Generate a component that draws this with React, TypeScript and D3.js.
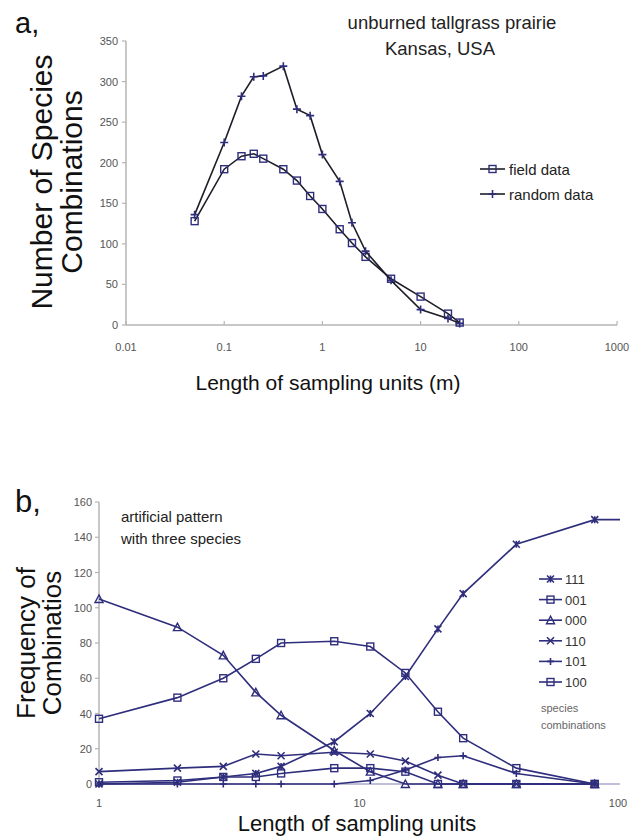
import * as d3 from "d3";

// ---- panel a: unburned tallgrass prairie ----
const lengthA = [0.05, 0.1, 0.15, 0.2, 0.25, 0.4, 0.55, 0.75, 1, 1.5, 2, 2.75, 5, 10, 19, 25];
const fieldData = [128, 192, 208, 211, 205, 192, 178, 159, 143, 118, 101, 84, 57, 35, 14, 3];
const randomData = [136, 225, 282, 306, 307, 319, 266, 258, 210, 177, 126, 91, 55, 19, 8, 2];
const xTicksA = [0.01, 0.1, 1, 10, 100, 1000];
const yTicksA = [0, 50, 100, 150, 200, 250, 300, 350];

// ---- panel b: artificial pattern ----
const lengthB = [1, 2, 3, 4, 5, 8, 11, 15, 20, 25, 40, 80, 100];
const comb111 = [0, 1, 4, 6, 10, 24, 40, 61, 88, 108, 136, 150, 150];
const comb001 = [37, 49, 60, 71, 80, 81, 78, 63, 41, 26, 9, 0];
const comb000 = [105, 89, 73, 52, 39, 19, 7, 0, 0, 0, 0, 0];
const comb110 = [7, 9, 10, 17, 16, 18, 17, 13, 5, 0, 0, 0];
const comb101 = [0, 0, 0, 0, 0, 0, 2, 8, 15, 16, 6, 0];
const comb100 = [1, 2, 4, 4, 6, 9, 9, 7, 0, 0, 0, 0];
const xTicksB = [1, 10, 100];
const yTicksB = [0, 20, 40, 60, 80, 100, 120, 140, 160];

const NAVY = "#2f2e7c";
const DARK = "#1e1e28";
const AXIS = "#b4b4b4";
const TICK_TXT = "#555";
const FONT = "'Liberation Sans', Arial, Helvetica, sans-serif";

type MarkerType = "square" | "triangle" | "plus" | "cross" | "star";

function Marker({ type, x, y, color, size = 7 }: { type: MarkerType; x: number; y: number; color: string; size?: number }) {
  const h = size / 2;
  if (type === "square")
    return <rect x={x - h} y={y - h} width={size} height={size} fill="none" stroke={color} strokeWidth={1.4} />;
  if (type === "triangle")
    return <path d={`M${x},${y - h - 0.5}L${x + h + 0.5},${y + h}L${x - h - 0.5},${y + h}Z`} fill="none" stroke={color} strokeWidth={1.4} />;
  if (type === "plus")
    return <path d={`M${x - h},${y}H${x + h}M${x},${y - h}V${y + h}`} stroke={color} strokeWidth={1.6} />;
  if (type === "cross")
    return <path d={`M${x - h},${y - h}L${x + h},${y + h}M${x + h},${y - h}L${x - h},${y + h}`} stroke={color} strokeWidth={1.6} />;
  return (
    <path
      d={`M${x - h},${y - h}L${x + h},${y + h}M${x + h},${y - h}L${x - h},${y + h}M${x},${y - h}V${y + h}`}
      stroke={color}
      strokeWidth={1.6}
    />
  );
}

function PanelA() {
  const x = d3.scaleLog().domain([0.01, 1000]).range([126, 617]);
  const y = d3.scaleLinear().domain([0, 350]).range([325, 41]);
  const line = d3
    .line<number>()
    .x((_, i) => x(lengthA[i]))
    .y((d) => y(d));
  const series = [
    { name: "field data", values: fieldData, marker: "square" as MarkerType },
    { name: "random data", values: randomData, marker: "plus" as MarkerType },
  ];
  return (
    <g>
      <text x={15} y={33} fontSize={29} fontFamily={FONT} fill="#111">a,</text>
      <text x={452} y={29} fontSize={18.5} textAnchor="middle" fontFamily={FONT} fill="#222">unburned tallgrass prairie</text>
      <text x={440} y={55} fontSize={18.5} textAnchor="middle" fontFamily={FONT} fill="#222">Kansas, USA</text>

      {/* axes */}
      <line x1={x(0.01)} x2={x(0.01)} y1={y(350)} y2={y(0)} stroke={AXIS} strokeWidth={1.5} />
      <line x1={x(0.01)} x2={x(1000)} y1={y(0)} y2={y(0)} stroke={AXIS} strokeWidth={1.5} />
      {yTicksA.map((t) => (
        <g key={t}>
          <line x1={x(0.01) - 4} x2={x(0.01)} y1={y(t)} y2={y(t)} stroke={AXIS} strokeWidth={1.2} />
          <text x={118} y={y(t) + 4} fontSize={11} textAnchor="end" fontFamily={FONT} fill={TICK_TXT}>{t}</text>
        </g>
      ))}
      {xTicksA.map((t) => (
        <g key={t}>
          <line x1={x(t)} x2={x(t)} y1={y(0) - 4} y2={y(0)} stroke={AXIS} strokeWidth={1.2} />
          <text x={x(t)} y={351} fontSize={11} textAnchor="middle" fontFamily={FONT} fill={TICK_TXT}>{t}</text>
        </g>
      ))}

      {/* axis titles */}
      <text transform="translate(52,182) rotate(-90)" fontSize={30} textAnchor="middle" fontFamily={FONT} fill="#111">Number of Species</text>
      <text transform="translate(82,182) rotate(-90)" fontSize={30} textAnchor="middle" fontFamily={FONT} fill="#111">Combinations</text>
      <text x={328} y={390} fontSize={21} textAnchor="middle" fontFamily={FONT} fill="#111">Length of sampling units (m)</text>

      {series.map((s) => (
        <g key={s.name}>
          <path d={line(s.values) || ""} fill="none" stroke={DARK} strokeWidth={1.6} />
          {s.values.map((v, i) => (
            <Marker key={i} type={s.marker} x={x(lengthA[i])} y={y(v)} color={NAVY} size={s.marker === "plus" ? 8 : 7} />
          ))}
        </g>
      ))}

      {/* legend */}
      {series.map((s, i) => (
        <g key={s.name} transform={`translate(0,${169 + i * 25})`}>
          <line x1={480} x2={505} y1={0} y2={0} stroke={DARK} strokeWidth={1.6} />
          <Marker type={s.marker} x={492.5} y={0} color={NAVY} size={s.marker === "plus" ? 8 : 7} />
          <text x={509} y={5.5} fontSize={15} fontFamily={FONT} fill="#222">{s.name}</text>
        </g>
      ))}
    </g>
  );
}

function PanelB() {
  const x = d3.scaleLog().domain([1, 100]).range([99, 620]);
  const y = d3.scaleLinear().domain([0, 160]).range([784, 502]);
  const line = d3
    .line<number>()
    .x((_, i) => x(lengthB[i]))
    .y((d) => y(d));
  const series = [
    { name: "111", values: comb111, marker: "star" as MarkerType },
    { name: "001", values: comb001, marker: "square" as MarkerType },
    { name: "000", values: comb000, marker: "triangle" as MarkerType },
    { name: "110", values: comb110, marker: "cross" as MarkerType },
    { name: "101", values: comb101, marker: "plus" as MarkerType },
    { name: "100", values: comb100, marker: "square" as MarkerType },
  ];
  return (
    <g>
      <text x={15} y={512} fontSize={31} fontFamily={FONT} fill="#111">b,</text>
      <text x={121} y={522} fontSize={15} fontFamily={FONT} fill="#222">artificial pattern</text>
      <text x={121} y={544} fontSize={15} fontFamily={FONT} fill="#222">with three species</text>

      <line x1={x(1)} x2={x(1)} y1={y(160)} y2={y(0)} stroke={AXIS} strokeWidth={1.5} />
      {yTicksB.map((t) => (
        <g key={t}>
          <line x1={x(1) - 4} x2={x(1)} y1={y(t)} y2={y(t)} stroke={AXIS} strokeWidth={1.2} />
          <text x={92} y={y(t) + 4} fontSize={11} textAnchor="end" fontFamily={FONT} fill={TICK_TXT}>{t}</text>
        </g>
      ))}
      {xTicksB.map((t) => (
        <text key={t} x={x(t) - (t === 100 ? 2 : 0)} y={807} fontSize={11} textAnchor="middle" fontFamily={FONT} fill={TICK_TXT}>{t}</text>
      ))}

      <text transform="translate(35,643) rotate(-90)" fontSize={26} textAnchor="middle" fontFamily={FONT} fill="#111">Frequency of</text>
      <text transform="translate(61,643) rotate(-90)" fontSize={26} textAnchor="middle" fontFamily={FONT} fill="#111">Combinatios</text>
      <text x={357} y={831} fontSize={22} textAnchor="middle" fontFamily={FONT} fill="#111">Length of sampling units</text>

      {series.map((s) => (
        <path key={s.name} d={line(s.values) || ""} fill="none" stroke={NAVY} strokeWidth={1.6} />
      ))}
      <line x1={x(1)} x2={x(100)} y1={y(0)} y2={y(0)} stroke={NAVY} strokeWidth={1.2} opacity={0.6} />
      {series.map((s) => (
        <g key={s.name}>
          {s.values.map((v, i) =>
            lengthB[i] < 100 ? <Marker key={i} type={s.marker} x={x(lengthB[i])} y={y(v)} color={NAVY} /> : null
          )}
        </g>
      ))}

      {/* legend */}
      {series.map((s, i) => (
        <g key={s.name} transform={`translate(0,${579 + i * 20.6})`}>
          <line x1={539} x2={562} y1={0} y2={0} stroke={NAVY} strokeWidth={1.6} />
          <Marker type={s.marker} x={550.5} y={0} color={NAVY} />
          <text x={565} y={5} fontSize={13} fontFamily={FONT} fill="#333">{s.name}</text>
        </g>
      ))}
      <text x={541} y={712} fontSize={11} fontFamily={FONT} fill="#666">species</text>
      <text x={541} y={729} fontSize={11} fontFamily={FONT} fill="#666">combinations</text>
    </g>
  );
}

export default function App() {
  return (
    <div style={{ position: "absolute", left: 0, top: 0 }}>
      <svg width={633} height={838} style={{ display: "block", background: "#fff" }}>
        <PanelA />
        <PanelB />
      </svg>
    </div>
  );
}
